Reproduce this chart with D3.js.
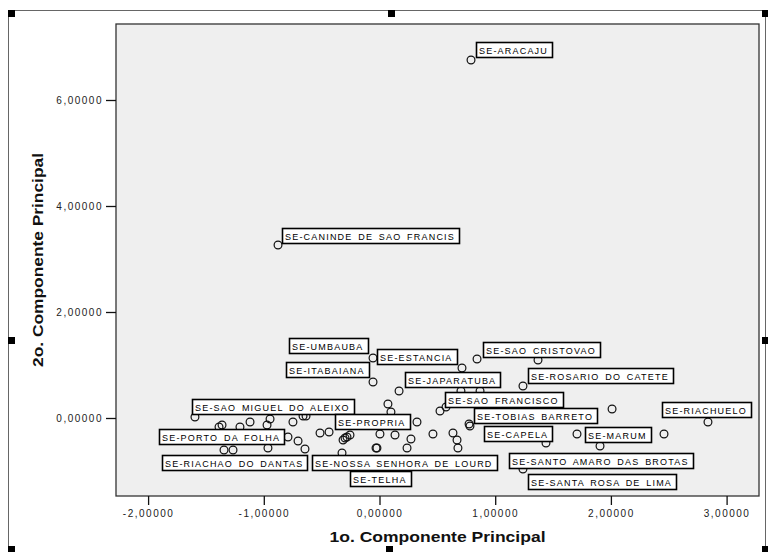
<!DOCTYPE html>
<html>
<head>
<meta charset="utf-8">
<script src="https://cdn.jsdelivr.net/npm/d3@7"></script>
<style>
  body { margin: 0; background: #fff; }
  svg { display: block; }
  .tick text { font-family: "Liberation Sans", Arial, sans-serif; font-size: 10px; letter-spacing: 1.5px; fill: #222; }
  .ttl { font-family: "Liberation Sans", Arial, sans-serif; font-weight: bold; font-size: 15px; fill: #111; }
  .lbl { font-family: "Liberation Sans", Arial, sans-serif; font-size: 9px; letter-spacing: 1.2px; word-spacing: 2px; fill: #000; }
</style>
</head>
<body>
<div id="chart"></div>
<script>
// labelled municipios (1o / 2o componente principal)
var names = ["SE-ARACAJU", "SE-CANINDE DE SAO FRANCIS", "SE-UMBAUBA", "SE-ITABAIANA",
  "SE-ESTANCIA", "SE-SAO CRISTOVAO", "SE-JAPARATUBA", "SE-ROSARIO DO CATETE",
  "SE-SAO FRANCISCO", "SE-TOBIAS BARRETO", "SE-CAPELA", "SE-MARUM",
  "SE-SANTO AMARO DAS BROTAS", "SE-SANTA ROSA DE LIMA", "SE-RIACHUELO",
  "SE-SAO MIGUEL DO ALEIXO", "SE-PORTO DA FOLHA", "SE-RIACHAO DO DANTAS",
  "SE-PROPRIA", "SE-NOSSA SENHORA DE LOURD", "SE-TELHA"];
var pc1 = [0.791, -0.877, -0.056, -0.056, 0.713, 0.843, 0.169, 1.240, 0.523, 0.774, 1.439, 1.707,
  1.906, 1.240, 2.839, -1.595, -0.791, -1.344, 0.324, -0.324, -0.022];
var pc2 = [6.755, 3.264, 1.132, 0.679, 0.943, 1.113, 0.509, 0.604, 0.132, -0.113, -0.472, -0.302,
  -0.528, -0.962, -0.075, 0.019, -0.358, -0.604, -0.075, -0.660, -0.566];

// the other municipios, unlabelled
var otherPc1 = [1.370, 0.704, 0.869, 0.073, 0.099, 0.575, 0.782, 0.004, 0.134, 0.272, 0.462, 0.635,
  0.670, 0.678, -0.030, 0.238, 2.010, 2.459, -0.514, -0.436, -0.315, -0.281, -0.255, -0.298,
  -0.644, -0.704, -0.964, -0.860, -0.661, -0.635, -0.748, -0.946, -0.972, -1.119, -1.206,
  -1.361, -1.387, -1.266];
var otherPc2 = [1.094, 0.509, 0.509, 0.264, 0.113, 0.208, -0.151, -0.302, -0.321, -0.396, -0.302, -0.283,
  -0.415, -0.566, -0.566, -0.566, 0.170, -0.302, -0.283, -0.264, -0.415, -0.358, -0.321, -0.377,
  -0.585, -0.434, -0.566, -0.321, 0.038, 0.038, -0.075, -0.019, -0.132, -0.075, -0.170,
  -0.132, -0.170, -0.604];

var xTicks = [-2, -1, 0, 1, 2, 3];
var yTicks = [0, 2, 4, 6];

// where each label box sits relative to its point (px); "l" = box to the left
var labelAt = {
  "SE-ARACAJU": [5, -18], "SE-CANINDE DE SAO FRANCIS": [4, -17],
  "SE-UMBAUBA": [-6, -20, "l"], "SE-ITABAIANA": [-4, -20, "l"], "SE-ESTANCIA": [-5, -19, "l"],
  "SE-SAO CRISTOVAO": [6, -17], "SE-JAPARATUBA": [6, -19], "SE-ROSARIO DO CATETE": [5, -18],
  "SE-SAO FRANCISCO": [5, -19], "SE-TOBIAS BARRETO": [5, -16], "SE-CAPELA": [6, -17, "l"],
  "SE-MARUM": [8, -7], "SE-SANTO AMARO DAS BROTAS": [-91, 7], "SE-SANTA ROSA DE LIMA": [5, 5],
  "SE-RIACHUELO": [-46, -20], "SE-SAO MIGUEL DO ALEIXO": [-3, -18], "SE-PORTO DA FOLHA": [-4, -8, "l"],
  "SE-RIACHAO DO DANTAS": [-62, 5], "SE-PROPRIA": [-7, -8, "l"],
  "SE-NOSSA SENHORA DE LOURD": [-30, 2], "SE-TELHA": [-27, 23]
};

var W = 768, H = 552;
var plot = {left: 116, top: 24, right: 759, bottom: 496};

var svg = d3.select("#chart").append("svg")
  .attr("width", W)
  .attr("height", H);

// outer frame + selection handles
svg.append("rect")
  .attr("x", 8.5).attr("y", 10.5)
  .attr("width", 757).attr("height", 560)
  .attr("fill", "none").attr("stroke", "#666");

var handles = [[8, 10], [388, 10], [762, 10], [8, 337], [762, 337], [8, 546], [386, 546], [762, 546]];
svg.selectAll("rect.handle").data(handles).enter().append("rect")
  .attr("class", "handle")
  .attr("x", function(d) { return d[0]; })
  .attr("y", function(d) { return d[1]; })
  .attr("width", 7).attr("height", 7)
  .attr("fill", "#000");

var x = d3.scaleLinear()
  .domain([(plot.left - 379.5) / 115.7, (plot.right - 379.5) / 115.7])
  .range([plot.left, plot.right]);
var y = d3.scaleLinear()
  .domain([(418 - plot.bottom) / 53, (418 - plot.top) / 53])
  .range([plot.bottom, plot.top]);

svg.append("rect")
  .attr("x", plot.left).attr("y", plot.top)
  .attr("width", plot.right - plot.left).attr("height", plot.bottom - plot.top)
  .attr("fill", "#efefef").attr("stroke", "#333").attr("stroke-width", 1.3);

var fmt = function(d) { return d3.format(".5f")(d).replace(".", ",").replace("\u2212", "-"); };

var xAxis = svg.append("g")
  .attr("transform", "translate(0," + plot.bottom + ")")
  .call(d3.axisBottom(x).tickValues(xTicks).tickFormat(fmt).tickSize(9).tickPadding(5));
var yAxis = svg.append("g")
  .attr("transform", "translate(" + plot.left + ",0)")
  .call(d3.axisLeft(y).tickValues(yTicks).tickFormat(fmt).tickSize(10).tickPadding(3));
[xAxis, yAxis].forEach(function(g) {
  g.select(".domain").remove();
  g.selectAll(".tick line").attr("stroke", "#111").attr("stroke-width", 1.3);
});

svg.append("text").attr("class", "ttl")
  .attr("x", (plot.left + plot.right) / 2).attr("y", 542)
  .attr("text-anchor", "middle")
  .attr("textLength", 216).attr("lengthAdjust", "spacingAndGlyphs")
  .text("1o. Componente Principal");
svg.append("text").attr("class", "ttl")
  .attr("transform", "translate(43," + (plot.top + plot.bottom) / 2 + ") rotate(-90)")
  .attr("text-anchor", "middle")
  .attr("textLength", 214).attr("lengthAdjust", "spacingAndGlyphs")
  .text("2o. Componente Principal");

// points
var pts = otherPc1.map(function(v, i) { return {x: v, y: otherPc2[i]}; })
  .concat(pc1.map(function(v, i) { return {x: v, y: pc2[i]}; }));
svg.append("g").selectAll("circle").data(pts).enter().append("circle")
  .attr("cx", function(d) { return x(d.x); })
  .attr("cy", function(d) { return y(d.y); })
  .attr("r", 3.9)
  .attr("fill", "none")
  .attr("stroke", "#111")
  .attr("stroke-width", 1.2);

// label boxes on top of points
var lab = svg.append("g").selectAll("g").data(names).enter().append("g");
lab.each(function(name, i) {
  var g = d3.select(this);
  var t = g.append("text").attr("class", "lbl").text(name);
  var w = t.node().getComputedTextLength() + 7;
  var o = labelAt[name];
  var px = x(pc1[i]), py = y(pc2[i]);
  var bx = o[2] === "l" ? px + o[0] - w : px + o[0];
  var by = py + o[1];
  g.insert("rect", "text")
    .attr("x", Math.round(bx) + 0.5).attr("y", Math.round(by) + 0.5)
    .attr("width", Math.round(w)).attr("height", 15)
    .attr("fill", "#fff").attr("stroke", "#000").attr("stroke-width", 1.6);
  t.attr("x", Math.round(bx) + 3).attr("y", Math.round(by) + 11.5);
});
</script>
</body>
</html>
